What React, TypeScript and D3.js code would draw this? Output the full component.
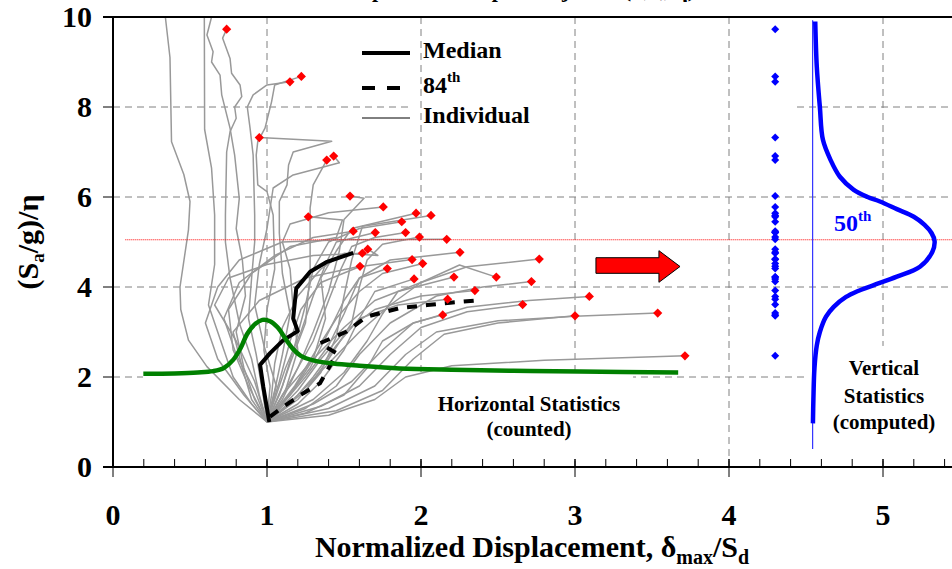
import React, { useRef, useEffect } from "react";
import * as d3 from "d3";

type Pt = [number, number];

const W = 952;
const H = 569;
const FONT = "'Liberation Serif', 'Times New Roman', serif";

// axis ticks
const xTicks = [0, 1, 2, 3, 4, 5];
const yTicks = [0, 2, 4, 6, 8, 10];
const xMinorStep = 0.2;

// individual curves that run off the top of the plot (no collapse point)
const runawayCurves: Pt[][] = [
  [[1, 1], [0.82, 1.5], [0.61, 2.23], [0.49, 2.82], [0.44, 3.5], [0.435, 4.0], [0.49, 5.27], [0.5, 5.9], [0.46, 6.5], [0.38, 7.23], [0.37, 9.1], [0.34, 10]],
  [[1, 1], [0.9, 1.4], [0.78, 2.0], [0.7, 2.8], [0.62, 3.6], [0.66, 4.5], [0.66, 5.6], [0.64, 6.64], [0.595, 7.5], [0.593, 10]],
  [[1, 1], [0.92, 1.5], [0.85, 2.2], [0.8, 3.0], [0.86, 3.8], [0.84, 4.6], [0.8, 5.3], [0.82, 5.97], [0.79, 6.93], [0.76, 7.53], [0.706, 8.27], [0.695, 8.71], [0.64, 9.0], [0.65, 9.23], [0.61, 9.6], [0.64, 10]],
];

// individual curves, last point = collapse (red diamond)
const collapseCurves: Pt[][] = [
  [[1, 1], [0.95, 1.6], [0.9, 2.4], [0.82, 3.2], [0.76, 4.2], [0.73, 5.0], [0.73, 5.6], [0.738, 7.0], [0.76, 7.45], [0.8, 7.75], [0.79, 8.0], [0.836, 8.23], [0.825, 8.49], [0.77, 8.75], [0.76, 9.08], [0.712, 9.53], [0.738, 9.73]],
  [[1, 1], [0.97, 1.7], [0.93, 2.5], [0.88, 3.3], [0.9, 4.2], [0.92, 5.0], [0.92, 5.6], [0.91, 6.93], [0.89, 7.53], [0.872, 8.0], [0.91, 8.27], [1.0, 8.49], [1.149, 8.56]],
  [[1, 1], [1.02, 1.8], [0.98, 2.6], [1.0, 3.5], [1.05, 4.4], [1.04, 5.6], [1.0, 6.12], [0.94, 6.27], [0.93, 6.93], [0.94, 7.23], [0.987, 7.53], [1.03, 8.12], [1.05, 8.49], [1.223, 8.68]],
  [[1, 1], [1.05, 1.7], [1.1, 2.5], [1.15, 3.4], [1.1, 4.3], [1.08, 5.2], [1.08, 5.9], [1.13, 6.27], [1.14, 6.71], [1.17, 7.0], [1.42, 7.24], [0.95, 7.32]],
  [[1, 1], [1.08, 1.6], [1.15, 2.3], [1.25, 3.2], [1.28, 4.3], [1.28, 5.76], [1.3, 6.27], [1.388, 6.82]],
  [[1, 1], [1.06, 1.8], [0.98, 2.7], [0.92, 3.6], [0.95, 4.5], [1.0, 5.3], [1.04, 6.2], [1.17, 6.49], [1.47, 6.76], [1.433, 6.91]],
  [[1, 1], [1.1, 1.5], [1.2, 2.2], [1.3, 3.0], [1.4, 3.9], [1.47, 4.8], [1.5, 5.5], [1.63, 5.97], [1.539, 6.02]],
  [[1, 1], [1.12, 1.7], [1.2, 2.6], [1.17, 3.5], [1.15, 4.4], [1.1, 5.0], [1.15, 5.4], [1.4, 5.65], [1.755, 5.78]],
  [[1, 1], [1.15, 1.6], [1.3, 2.4], [1.38, 3.3], [1.35, 4.2], [1.45, 4.8], [1.55, 5.3], [1.968, 5.64]],
  [[1, 1], [1.2, 1.5], [1.35, 2.1], [1.45, 2.9], [1.5, 3.8], [1.55, 4.6], [1.62, 5.35], [2.065, 5.59]],
  [[1, 1], [0.88, 1.8], [0.78, 2.6], [0.75, 3.5], [0.9, 4.3], [1.15, 4.9], [1.45, 5.1], [1.49, 5.49], [1.268, 5.56]],
  [[1, 1], [1.1, 1.8], [1.18, 2.7], [1.25, 3.6], [1.3, 4.4], [1.4, 5.0], [1.6, 5.3], [1.875, 5.45]],
  [[1, 1], [0.92, 1.7], [0.8, 2.5], [0.72, 3.3], [0.82, 4.1], [1.05, 4.7], [1.3, 5.1], [1.56, 5.24]],
  [[1, 1], [1.05, 1.5], [1.12, 2.2], [1.22, 3.0], [1.3, 3.8], [1.38, 4.5], [1.45, 5.0], [1.703, 5.21]],
  [[1, 1], [1.15, 1.9], [1.3, 2.8], [1.4, 3.7], [1.48, 4.4], [1.55, 4.9], [1.7, 5.1], [1.9, 5.21]],
  [[1, 1], [1.25, 1.7], [1.4, 2.4], [1.55, 3.2], [1.6, 4.0], [1.65, 4.6], [1.75, 4.95], [1.99, 5.11]],
  [[1, 1], [0.85, 1.6], [0.68, 2.4], [0.6, 3.2], [0.68, 4.0], [0.82, 4.6], [1.1, 5.0], [1.5, 5.05], [2.167, 5.06]],
  [[1, 1], [1.1, 1.4], [1.25, 2.0], [1.4, 2.7], [1.5, 3.4], [1.6, 4.2], [1.8, 4.6], [2.253, 4.77]],
  [[1, 1], [1.03, 1.6], [1.05, 2.3], [1.1, 3.1], [1.2, 3.8], [1.35, 4.4], [1.5, 4.75], [1.72, 4.7], [1.654, 4.84]],
  [[1, 1], [0.92, 1.9], [0.8, 2.8], [0.66, 3.6], [0.75, 4.2], [1.0, 4.5], [1.3, 4.7], [1.619, 4.75]],
  [[1, 1], [1.2, 1.6], [1.4, 2.3], [1.6, 3.0], [1.8, 3.6], [2.0, 4.1], [2.3, 4.45], [2.768, 4.62]],
  [[1, 1], [1.08, 1.9], [1.15, 2.8], [1.22, 3.5], [1.35, 4.1], [1.6, 4.45], [1.942, 4.61]],
  [[1, 1], [1.18, 1.8], [1.32, 2.6], [1.45, 3.3], [1.6, 3.9], [1.75, 4.3], [2.011, 4.52]],
  [[1, 1], [0.9, 1.5], [0.84, 2.2], [0.78, 3.0], [0.95, 3.7], [1.25, 4.2], [1.604, 4.46]],
  [[1, 1], [1.12, 1.5], [1.28, 2.2], [1.4, 3.0], [1.5, 3.7], [1.6, 4.2], [1.781, 4.41]],
  [[1, 1], [1.2, 1.4], [1.35, 1.9], [1.5, 2.6], [1.6, 3.3], [1.7, 3.9], [1.955, 4.18]],
  [[1, 1], [1.3, 1.5], [1.5, 2.1], [1.65, 2.8], [1.75, 3.4], [1.85, 3.9], [2.214, 4.22]],
  [[1, 1], [1.1, 1.6], [1.3, 2.4], [1.5, 3.1], [1.7, 3.7], [2.0, 4.1], [2.25, 4.49], [2.489, 4.22]],
  [[1, 1], [1.25, 1.3], [1.45, 1.8], [1.6, 2.5], [1.8, 3.2], [2.1, 3.8], [2.4, 4.0], [2.717, 4.12]],
  [[1, 1], [1.2, 1.7], [1.35, 2.4], [1.5, 3.0], [1.7, 3.5], [2.0, 3.8], [2.35, 3.92]],
  [[1, 1], [1.3, 1.4], [1.55, 1.9], [1.75, 2.6], [1.95, 3.2], [2.3, 3.55], [2.7, 3.7], [3.093, 3.79]],
  [[1, 1], [1.15, 1.4], [1.3, 2.0], [1.45, 2.7], [1.6, 3.3], [1.85, 3.6], [2.173, 3.73]],
  [[1, 1], [1.35, 1.35], [1.6, 1.8], [1.8, 2.5], [2.0, 3.1], [2.3, 3.45], [2.66, 3.61]],
  [[1, 1], [1.4, 1.3], [1.7, 1.8], [1.9, 2.5], [2.1, 3.0], [2.5, 3.25], [3.0, 3.35], [3.537, 3.42]],
  [[1, 1], [1.25, 1.2], [1.5, 1.6], [1.65, 2.2], [1.75, 2.8], [1.95, 3.2], [2.141, 3.38]],
  [[1, 1], [1.45, 1.25], [1.75, 1.7], [1.95, 2.4], [2.15, 2.95], [2.5, 3.2], [3.0, 3.36]],
  [[1, 1], [1.4, 1.15], [1.7, 1.5], [1.9, 2.0], [2.2, 2.25], [2.8, 2.37], [3.714, 2.47]],
];

const medianCurve: Pt[] = [
  [1.015, 1.0], [1.0, 1.3], [0.976, 1.78], [0.955, 2.27], [1.02, 2.53], [1.106, 2.82], [1.2, 3.02],
  [1.17, 3.3], [1.19, 3.97], [1.28, 4.34], [1.39, 4.56], [1.56, 4.76],
];

const p84Curve: Pt[] = [
  [1.02, 1.12], [1.106, 1.34], [1.236, 1.64], [1.344, 1.86], [1.43, 2.38], [1.45, 2.53], [1.344, 2.75],
  [1.517, 3.01], [1.647, 3.34], [1.86, 3.53], [2.04, 3.6], [2.19, 3.65], [2.39, 3.71],
];

// horizontal statistics (counted) - green
const horizPdf: Pt[] = [
  [0.197, 2.07], [0.4, 2.08], [0.55, 2.1], [0.65, 2.13], [0.72, 2.2], [0.78, 2.38], [0.83, 2.65],
  [0.87, 2.95], [0.92, 3.17], [0.97, 3.27], [1.02, 3.24], [1.07, 3.1], [1.12, 2.85], [1.17, 2.62],
  [1.22, 2.47], [1.3, 2.37], [1.43, 2.3], [1.6, 2.25], [1.86, 2.19], [2.2, 2.16], [2.6, 2.14],
  [3.03, 2.12], [3.67, 2.1],
];

// vertical statistics (computed) - blue
const vertPdf: Pt[] = [
  [4.56, 9.9], [4.57, 8.9], [4.59, 8.0], [4.61, 7.27], [4.66, 6.82], [4.72, 6.45], [4.81, 6.16],
  [4.9, 6.0], [4.98, 5.9], [5.09, 5.73], [5.2, 5.56], [5.27, 5.38], [5.315, 5.2], [5.335, 5.02],
  [5.32, 4.78], [5.24, 4.45], [5.09, 4.23], [4.94, 4.04], [4.83, 3.9], [4.76, 3.78], [4.68, 3.56],
  [4.63, 3.34], [4.59, 3.0], [4.57, 2.7], [4.555, 2.2], [4.548, 1.5], [4.545, 0.97],
];
const vertBaseX = 4.543;
const vertBaseY: Pt = [0.4, 9.93];
const collapseDotX = 4.3;
const capacityLevel = 5.05;

// arrow (data units): tail x, head base x, tip x, body y lo/hi, head y lo/hi
const arrow = { x0: 3.136, x1: 3.545, x2: 3.682, b0: 4.304, b1: 4.651, h0: 4.104, h1: 4.807 };

const App = () => {
  const ref = useRef<SVGSVGElement>(null);

  const draw = (elt: SVGSVGElement) => {
    const svg = d3.select(elt);
    svg.selectAll("*").remove();

    const x = d3.scaleLinear().domain([0, 5.5]).range([113, 960]);
    const y = d3.scaleLinear().domain([0, 10]).range([467, 17]);
    const line = d3.line<Pt>().x((d) => x(d[0])).y((d) => y(d[1]));
    const smooth = d3.line<Pt>().x((d) => x(d[0])).y((d) => y(d[1])).curve(d3.curveCatmullRom.alpha(0.5));

    svg.append("rect").attr("width", W).attr("height", H).attr("fill", "#fff");

    // title, mostly cut off at the top edge as in the original
    svg.append("text").attr("x", 695).attr("y", -3).attr("text-anchor", "end")
      .style("font-family", FONT).style("font-weight", "700").style("font-size", "22px")
      .text("Example IDA Sample Subjected (T, ζ, η)");

    // horizontal grid
    svg.append("g").selectAll("line").data(yTicks.filter((v) => v > 0 && v < 10)).enter()
      .append("line")
      .attr("x1", x(0)).attr("x2", x(5.5)).attr("y1", (d) => y(d)).attr("y2", (d) => y(d))
      .attr("stroke", "#808080").attr("stroke-width", 1).attr("stroke-dasharray", "7,5");

    // legend background hides part of a grid line
    svg.append("rect").attr("x", 413).attr("y", 30).attr("width", 379).attr("height", 98).attr("fill", "#fff");

    // vertical grid
    svg.append("g").selectAll("line").data(xTicks.filter((v) => v > 0)).enter()
      .append("line")
      .attr("x1", (d) => x(d)).attr("x2", (d) => x(d)).attr("y1", y(10)).attr("y2", y(0))
      .attr("stroke", "#808080").attr("stroke-width", 1).attr("stroke-dasharray", "7,5");

    // text boxes
    svg.append("rect").attr("x", x(0.195)).attr("y", y(2.035))
      .attr("width", x(3.377) - x(0.195)).attr("height", y(0.17) - y(2.035)).attr("fill", "#fff");
    svg.append("rect").attr("x", x(4.506)).attr("y", y(2.69))
      .attr("width", W - x(4.506)).attr("height", y(0.17) - y(2.69)).attr("fill", "#fff");

    // individual curves
    const gray = svg.append("g").attr("fill", "none").attr("stroke", "#999").attr("stroke-width", 1.5)
      .attr("stroke-linejoin", "round");
    [...runawayCurves, ...collapseCurves].forEach((c) => gray.append("path").attr("d", line(c)));

    // capacity level
    svg.append("line").attr("x1", x(0.08)).attr("x2", x(5.5))
      .attr("y1", y(capacityLevel)).attr("y2", y(capacityLevel))
      .attr("stroke", "#ff0000").attr("stroke-width", 1).attr("stroke-dasharray", "1,1");

    // median & 84th
    svg.append("path").attr("d", line(medianCurve)).attr("fill", "none").attr("stroke", "#000")
      .attr("stroke-width", 4).attr("stroke-linejoin", "round");
    svg.append("path").attr("d", line(p84Curve)).attr("fill", "none").attr("stroke", "#000")
      .attr("stroke-width", 4).attr("stroke-dasharray", "10,9");

    // horizontal pdf
    svg.append("path").attr("d", smooth(horizPdf)).attr("fill", "none").attr("stroke", "#008000")
      .attr("stroke-width", 4.5);

    // collapse points
    const diamond = (r: number) => `M0,${-r}L${r},0L0,${r}L${-r},0Z`;
    const ends = collapseCurves.map((c) => c[c.length - 1]);
    svg.append("g").selectAll("path").data(ends).enter().append("path")
      .attr("transform", (d) => `translate(${x(d[0])},${y(d[1])})`)
      .attr("d", diamond(4.6)).attr("fill", "#ff0000");

    // vertical statistics
    svg.append("line").attr("x1", x(vertBaseX)).attr("x2", x(vertBaseX))
      .attr("y1", y(vertBaseY[0])).attr("y2", y(vertBaseY[1]))
      .attr("stroke", "#3333ff").attr("stroke-width", 1.2);
    svg.append("path").attr("d", smooth(vertPdf)).attr("fill", "none").attr("stroke", "#0000ff")
      .attr("stroke-width", 4.5);
    svg.append("g").selectAll("path").data(ends).enter().append("path")
      .attr("transform", (d) => `translate(${x(collapseDotX)},${y(d[1])})`)
      .attr("d", diamond(4)).attr("fill", "#0000ff");

    // arrow
    const a = arrow;
    const arrowPts: Pt[] = [
      [a.x0, a.b1], [a.x1, a.b1], [a.x1, a.h1], [a.x2, (a.h0 + a.h1) / 2],
      [a.x1, a.h0], [a.x1, a.b0], [a.x0, a.b0],
    ];
    svg.append("path").attr("d", line(arrowPts) + "Z").attr("fill", "#ff0000")
      .attr("stroke", "#000").attr("stroke-width", 1);

    // axes
    const ax = svg.append("g").attr("stroke", "#000");
    ax.append("line").attr("x1", x(0)).attr("x2", x(0)).attr("y1", y(10)).attr("y2", y(0) + 1).attr("stroke-width", 2);
    ax.append("line").attr("x1", x(0) - 10).attr("x2", x(5.5)).attr("y1", y(0)).attr("y2", y(0)).attr("stroke-width", 2);
    ax.append("line").attr("x1", x(0) - 10).attr("x2", x(5.5)).attr("y1", y(10)).attr("y2", y(10)).attr("stroke-width", 2);
    ax.selectAll(".yt").data(yTicks).enter().append("line")
      .attr("x1", x(0) - 10).attr("x2", x(0)).attr("y1", (d) => y(d)).attr("y2", (d) => y(d)).attr("stroke-width", 1);
    ax.selectAll(".xm").data(d3.range(xMinorStep, 5.5, xMinorStep)).enter().append("line")
      .attr("x1", (d) => x(d)).attr("x2", (d) => x(d)).attr("y1", y(0) - 8).attr("y2", y(0)).attr("stroke-width", 1);
    ax.selectAll(".xt").data(xTicks).enter().append("line")
      .attr("x1", (d) => x(d)).attr("x2", (d) => x(d)).attr("y1", y(0) - 8).attr("y2", y(0) + 10).attr("stroke-width", 1);

    const txt = (sel: any, size: number) =>
      sel.style("font-family", FONT).style("font-weight", "700").style("font-size", `${size}px`).attr("fill", "#000");

    txt(svg.append("g").selectAll("text").data(yTicks).enter().append("text")
      .attr("x", 92).attr("y", (d: number) => y(d) + 10).attr("text-anchor", "end")
      .text((d: number) => d), 30);
    txt(svg.append("g").selectAll("text").data(xTicks).enter().append("text")
      .attr("x", (d: number) => x(d)).attr("y", 525).attr("text-anchor", "middle")
      .text((d: number) => d), 30);

    // x label
    const xl = txt(svg.append("text").attr("x", 532).attr("y", 557).attr("text-anchor", "middle"), 30);
    xl.append("tspan").text("Normalized Displacement, δ");
    xl.append("tspan").attr("dy", 7).style("font-size", "20px").text("max");
    xl.append("tspan").attr("dy", -7).text("/S");
    xl.append("tspan").attr("dy", 7).style("font-size", "20px").text("d");

    // y label
    const yl = txt(svg.append("text").attr("transform", `translate(38,242) rotate(-90)`).attr("text-anchor", "middle"), 30);
    yl.append("tspan").text("(S");
    yl.append("tspan").attr("dy", 6).style("font-size", "19px").text("a");
    yl.append("tspan").attr("dy", -6).text("/g)/η");

    // legend
    const lg = svg.append("g");
    lg.append("line").attr("x1", 362).attr("x2", 410).attr("y1", 53).attr("y2", 53).attr("stroke", "#000").attr("stroke-width", 4);
    lg.append("line").attr("x1", 362).attr("x2", 410).attr("y1", 88).attr("y2", 88).attr("stroke", "#000")
      .attr("stroke-width", 4).attr("stroke-dasharray", "13,12");
    lg.append("line").attr("x1", 362).attr("x2", 410).attr("y1", 118).attr("y2", 118).attr("stroke", "#000").attr("stroke-width", 1);
    txt(lg.append("text").attr("x", 423).attr("y", 58).text("Median"), 24);
    const l84 = txt(lg.append("text").attr("x", 423).attr("y", 93), 24);
    l84.append("tspan").text("84");
    l84.append("tspan").attr("dy", -11).style("font-size", "15px").text("th");
    txt(lg.append("text").attr("x", 423).attr("y", 123).text("Individual"), 24);

    // annotations
    const hs = txt(svg.append("text").attr("text-anchor", "middle"), 21);
    hs.append("tspan").attr("x", 529).attr("y", 411).text("Horizontal Statistics");
    hs.append("tspan").attr("x", 529).attr("y", 436).text("(counted)");
    const vs = txt(svg.append("text").attr("text-anchor", "middle"), 21);
    vs.append("tspan").attr("x", 884).attr("y", 375).text("Vertical");
    vs.append("tspan").attr("x", 884).attr("y", 403).text("Statistics");
    vs.append("tspan").attr("x", 884).attr("y", 429).text("(computed)");

    const p50 = txt(svg.append("text").attr("x", 834).attr("y", 231), 24).attr("fill", "#0000ff");
    p50.append("tspan").text("50");
    p50.append("tspan").attr("dy", -10).style("font-size", "15px").text("th");
  };

  useEffect(() => {
    if (ref.current) draw(ref.current);
  }, []);

  return (
    <svg ref={ref} width={W} height={H} style={{ position: "absolute", left: 0, top: 0 }} />
  );
};

export default App;
